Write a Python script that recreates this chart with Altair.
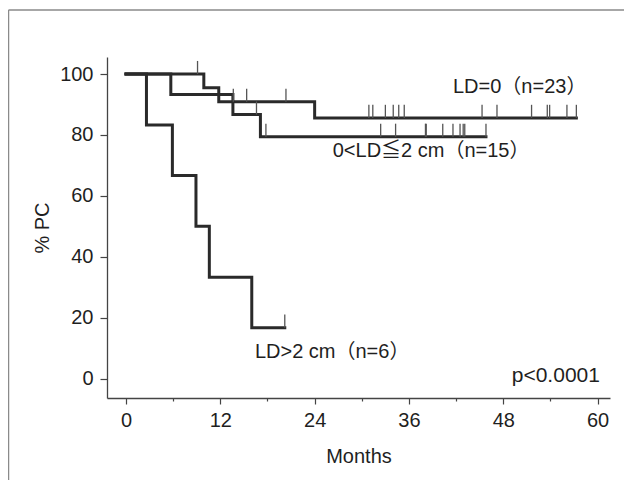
import altair as alt
import pandas as pd

# ---- Kaplan-Meier step curves (months, % PC) ----
groups = ["LD=0", "0<LD<=2", "LD>2"]

ld0_t = [0, 9.9, 11.8, 24.0, 57.3]
ld0_s = [100, 95.5, 90.9, 85.6, 85.6]
ld0_cens = [9.1, 13.65, 15.35, 20.35, 30.9, 31.4, 33.0, 34.0, 34.7, 35.4,
            45.3, 47.2, 51.6, 53.6, 53.9, 56.1, 57.3]

mid_t = [0, 5.7, 13.6, 17.1, 45.8]
mid_s = [100, 93.3, 86.7, 79.4, 79.4]
mid_cens = [16.6, 17.8, 32.4, 34.3, 38.1, 38.2, 40.3, 41.6, 42.5, 42.9, 43.1, 45.8]

big_t = [0, 2.6, 5.9, 8.9, 10.6, 16.0, 20.2]
big_s = [100, 83.3, 66.7, 50.0, 33.3, 16.7, 16.7]
big_cens = [20.2]

# annotation texts
label_texts = ["LD=0（n=23）", "0<LD≦2 cm（n=15）", "LD>2 cm（n=6）"]
label_x = [41.6, 26.3, 16.4]
label_y = [95.8, 74.7, 8.7]
p_text = ["p<0.0001"]
p_x = [60.3]
p_y = [0.7]

x_values = list(range(0, 61, 3))
y_values = list(range(0, 101, 10))

# ---- build tables ----
series = [(groups[0], ld0_t, ld0_s, ld0_cens),
          (groups[1], mid_t, mid_s, mid_cens),
          (groups[2], big_t, big_s, big_cens)]

curve_rows, cens_rows = [], []
for g, ts, ss, cs in series:
    for t, s in zip(ts, ss):
        curve_rows.append({"group": g, "month": t, "pc": s})
    for c in cs:
        lv = ss[0]
        for t, s in zip(ts, ss):
            if t <= c:
                lv = s
        cens_rows.append({"group": g, "month": c, "pc": lv})

curves = pd.DataFrame(curve_rows)
cens = pd.DataFrame(cens_rows)
labels = pd.DataFrame({"text": label_texts, "x": label_x, "y": label_y})
plab = pd.DataFrame({"text": p_text, "x": p_x, "y": p_y})

FONT = "Liberation Sans, Arial, Noto Sans CJK JP"
INK = "#1f1f1f"

x_scale = alt.Scale(domain=[-2.42, 61.58], nice=False, zero=False)
y_scale = alt.Scale(domain=[-6.4, 105.6], nice=False, zero=False)

x_axis = alt.Axis(
    values=x_values, grid=False, title="Months",
    labelExpr="datum.value % 12 === 0 ? datum.label : ''",
    tickSize={"condition": {"test": "datum.value % 12 === 0", "value": 6}, "value": 3},
    labelFont=FONT, labelFontSize=20, labelColor=INK, labelPadding=6,
    labelOverlap=False, labelFlush=False,
    titleFont=FONT, titleFontSize=20, titleFontWeight="normal", titleColor=INK,
    titlePadding=16, domainColor="#444", domainWidth=1.3,
    tickColor="#444", tickWidth=1.2,
)
y_axis = alt.Axis(
    values=y_values, grid=False, title="% PC",
    labelExpr="datum.value % 20 === 0 ? datum.label : ''",
    tickSize={"condition": {"test": "datum.value % 20 === 0", "value": 7}, "value": 3},
    labelFont=FONT, labelFontSize=20, labelColor=INK, labelPadding=7,
    labelOverlap=False, labelFlush=False,
    titleFont=FONT, titleFontSize=20, titleFontWeight="normal", titleColor=INK,
    titlePadding=7, domainColor="#444", domainWidth=1.3,
    tickColor="#444", tickWidth=1.2,
)

lines = alt.Chart(curves).mark_line(
    interpolate="step-after", strokeWidth=3, color="#2a2a2a",
    strokeJoin="miter", strokeCap="square",
).encode(
    x=alt.X("month:Q", scale=x_scale, axis=x_axis),
    y=alt.Y("pc:Q", scale=y_scale, axis=y_axis),
    detail="group:N",
)

ticks = alt.Chart(cens).transform_calculate(
    top="datum.pc + 4.3"
).mark_rule(color="#555", strokeWidth=1.3).encode(
    x="month:Q", y="pc:Q", y2="top:Q",
)

texts = alt.Chart(labels).mark_text(
    align="left", baseline="middle", font=FONT, fontSize=20, color=INK,
).encode(x="x:Q", y="y:Q", text="text:N")

ptext = alt.Chart(plab).mark_text(
    align="right", baseline="middle", font=FONT, fontSize=21, color=INK,
).encode(x="x:Q", y="y:Q", text="text:N")

dummy = alt.Data(values=[{}])
frame_left = alt.Chart(dummy).mark_rule(color="#8a8a8a", strokeWidth=1.5).encode(
    x=alt.value(-98.5), y=alt.value(-47), y2=alt.value(440))
frame_top = alt.Chart(dummy).mark_rule(color="#8a8a8a", strokeWidth=1.5).encode(
    x=alt.value(-98.5), x2=alt.value(530), y=alt.value(-47))

chart = alt.layer(lines, ticks, texts, ptext, frame_left, frame_top).properties(
    width=503, height=341,
    padding={"left": 99, "top": 49, "right": 14, "bottom": 82},
    autosize="none",
    background="white",
).configure_view(stroke=None)

chart.save("out.html", embed_options={"renderer": "svg", "actions": False})
